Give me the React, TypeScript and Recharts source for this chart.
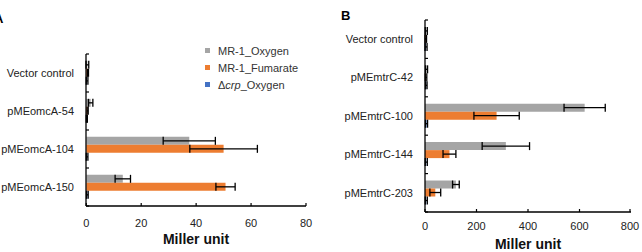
import { Bar, BarChart, ErrorBar, Legend, XAxis, YAxis } from "recharts";

const font = '"Liberation Sans", Arial, sans-serif';

// Panel A
const categoriesA = ["Vector  control", "pMEomcA-54", "pMEomcA-104", "pMEomcA-150"];
const oxygenA = [0.4, 1.6, 37.5, 13.3];
const oxygenErrA = [0.5, 0.8, 9.5, 2.8];
const fumarateA = [0.6, 0.5, 50, 50.7];
const fumarateErrA = [0.2, 0.2, 12.3, 3.5];
const crpA = [0.3, 0.2, 0.3, 0.4];
const crpErrA = [0.3, 0.2, 0.3, 0.3];
const ticksA = [0, 20, 40, 60, 80];

// Panel B
const categoriesB = ["Vector  control", "pMEmtrC-42", "pMEmtrC-100", "pMEmtrC-144", "pMEmtrC-203"];
const oxygenB = [5, 6, 620, 314, 120];
const oxygenErrB = [4, 4, 80, 92, 13];
const fumarateB = [3, 4, 278, 95, 40];
const fumarateErrB = [3, 3, 88, 25, 21];
const crpB = [4, 5, 6, 5, 5];
const crpErrB = [4, 3, 4, 4, 4];
const ticksB = [0, 200, 400, 600, 800];

const seriesNames = ["MR-1_Oxygen", "MR-1_Fumarate", "\u0394crp_Oxygen"];
const colors = ["#a5a5a5", "#ed7d31", "#4472c4"];

const rowsA = categoriesA.map((name, i) => ({
  name,
  oxygen: oxygenA[i],
  oxygenErr: oxygenErrA[i],
  fumarate: fumarateA[i],
  fumarateErr: fumarateErrA[i],
  crp: crpA[i],
  crpErr: crpErrA[i],
}));

const rowsB = categoriesB.map((name, i) => ({
  name,
  oxygen: oxygenB[i],
  oxygenErr: oxygenErrB[i],
  fumarate: fumarateB[i],
  fumarateErr: fumarateErrB[i],
  crp: crpB[i],
  crpErr: crpErrB[i],
}));

function CategoryTick(props: any) {
  const { x, y, payload, index, visibleTicksCount } = props;
  const half = payload?.offset ?? 19;
  const last = index === visibleTicksCount - 1;
  return (
    <g>
      <line x1={x} x2={x + 3} y1={y - half} y2={y - half} stroke="#000" strokeWidth={1.2} />
      {last && <line x1={x} x2={x + 3} y1={y + half} y2={y + half} stroke="#000" strokeWidth={1.2} />}
      <text x={x - 12} y={y} dy="0.35em" textAnchor="end" fontSize={11} fill="#222" fontFamily={font}>
        {payload.value}
      </text>
    </g>
  );
}

function ValueTick(props: any) {
  const { x, y, payload, gap } = props;
  return (
    <g>
      <line x1={x} x2={x} y1={y} y2={y - 3} stroke="#000" strokeWidth={1.2} />
      <text x={x} y={y + gap} dy="0.35em" textAnchor="middle" fontSize={11} fill="#222" fontFamily={font}>
        {payload.value}
      </text>
    </g>
  );
}

// legend drawn in the series order of the original figure
function renderLegend() {
  return (
    <div style={{ fontFamily: font, fontSize: 11, color: "#333" }}>
      {seriesNames.map((label, i) => {
        const isCrp = label.startsWith("\u0394");
        return (
          <div key={label} style={{ display: "flex", alignItems: "center", height: 17 }}>
            <span style={{ width: 5, height: 5, background: colors[i], display: "inline-block", marginRight: 8 }} />
            {isCrp ? (
              <span>
                {"\u0394"}
                <i>crp</i>
                {label.slice(4)}
              </span>
            ) : (
              <span>{label}</span>
            )}
          </div>
        );
      })}
    </div>
  );
}

const labelStyle = { fontWeight: 700, fontSize: 14, fill: "#111", fontFamily: font };

function Panel(props: any) {
  const { rows, ticks, max, width, margin, yWidth, xHeight, gap, labelOffset, legend } = props;
  return (
    <BarChart
      width={width}
      height={252}
      data={rows}
      layout="vertical"
      margin={margin}
      barCategoryGap="18%"
      barGap={0}
    >
      <XAxis
        type="number"
        domain={[0, max]}
        ticks={ticks}
        height={xHeight}
        tickSize={0}
        tickMargin={0}
        tickLine={false}
        axisLine={{ stroke: "#000", strokeWidth: 1.3 }}
        tick={<ValueTick gap={gap} />}
        label={{ value: "Miller unit", position: "insideBottom", offset: labelOffset, style: labelStyle }}
      />
      <YAxis
        type="category"
        dataKey="name"
        width={yWidth}
        tickSize={0}
        tickMargin={0}
        tickLine={false}
        axisLine={{ stroke: "#000", strokeWidth: 1.3 }}
        tick={<CategoryTick />}
        interval={0}
      />
      {legend && (
        <Legend
          layout="vertical"
          align="center"
          verticalAlign="middle"
          wrapperStyle={{ left: 205, top: 42, width: 110 }}
          content={renderLegend}
        />
      )}
      <Bar dataKey="oxygen" name={seriesNames[0]} fill={colors[0]} isAnimationActive={false}>
        <ErrorBar dataKey="oxygenErr" direction="x" width={4} stroke="#000" strokeWidth={1.3} />
      </Bar>
      <Bar dataKey="fumarate" name={seriesNames[1]} fill={colors[1]} isAnimationActive={false}>
        <ErrorBar dataKey="fumarateErr" direction="x" width={4} stroke="#000" strokeWidth={1.3} />
      </Bar>
      <Bar dataKey="crp" name={seriesNames[2]} fill={colors[2]} isAnimationActive={false}>
        <ErrorBar dataKey="crpErr" direction="x" width={4} stroke="#000" strokeWidth={1.3} />
      </Bar>
    </BarChart>
  );
}

export default function App() {
  return (
    <div style={{ position: "absolute", left: 0, top: 0, width: 642, height: 252, background: "#fff", overflow: "hidden" }}>
      <div style={{ position: "absolute", left: -6, top: 11, fontFamily: font, fontWeight: 700, fontSize: 13 }}>A</div>
      <div style={{ position: "absolute", left: 341, top: 8, fontFamily: font, fontWeight: 700, fontSize: 13 }}>B</div>
      <div style={{ position: "absolute", left: 0, top: 0 }}>
        <Panel
          rows={rowsA}
          ticks={ticksA}
          max={80}
          width={320}
          margin={{ top: 54, right: 14, bottom: 0, left: 0 }}
          yWidth={86}
          xHeight={46}
          gap={17}
          labelOffset={8}
          legend
        />
      </div>
      <div style={{ position: "absolute", left: 320, top: 0 }}>
        <Panel
          rows={rowsB}
          ticks={ticksB}
          max={800}
          width={322}
          margin={{ top: 20, right: 11, bottom: 0, left: 0 }}
          yWidth={105}
          xHeight={40}
          gap={14}
          labelOffset={3}
        />
      </div>
    </div>
  );
}
